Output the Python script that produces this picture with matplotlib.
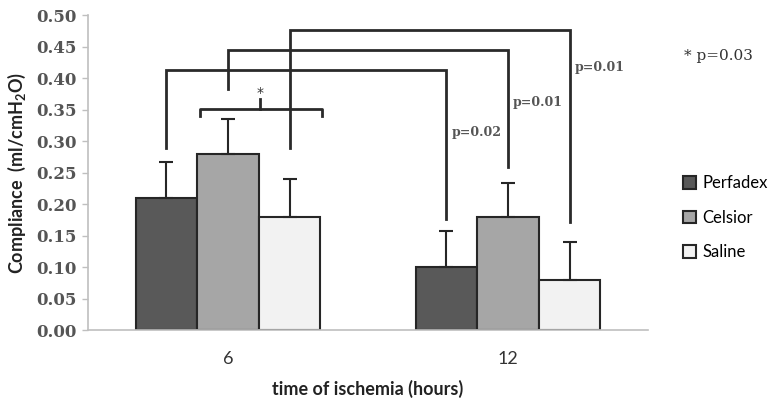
import numpy as np
import matplotlib.pyplot as plt

plt.rcParams['mathtext.fontset'] = 'custom'
plt.rcParams['mathtext.rm'] = 'Lato:bold'
plt.rcParams['mathtext.default'] = 'rm'

# data
hours = ['6', '12']
groups = ['Perfadex', 'Celsior', 'Saline']
means = {
    'Perfadex': [0.21, 0.10],
    'Celsior': [0.28, 0.18],
    'Saline': [0.18, 0.08],
}
sds = {
    'Perfadex': [0.057, 0.058],
    'Celsior': [0.055, 0.053],
    'Saline': [0.060, 0.060],
}
colors = {'Perfadex': '#595959', 'Celsior': '#a6a6a6', 'Saline': '#f2f2f2'}

# comparison brackets: group, y of left foot, y of top, y of right foot, label, label y
brackets = [
    ('Perfadex', 0.289, 0.413, 0.176, 'p=0.02', 0.313),
    ('Celsior', 0.383, 0.444, 0.259, 'p=0.01', 0.362),
    ('Saline', 0.289, 0.476, 0.171, 'p=0.01', 0.416),
]

fig = plt.figure(figsize=(7.68, 4.07), dpi=100)
ax = fig.add_axes([0.1146, 0.189, 0.729, 0.774])

x = np.arange(len(hours))
w = 0.22
for j, g in enumerate(groups):
    pos = x + (j - 1) * w
    ax.bar(pos, means[g], w, color=colors[g], edgecolor='#262626', linewidth=1.5,
           label=g, zorder=2)
    ax.errorbar(pos, means[g], yerr=[np.zeros(2), sds[g]], fmt='none',
                ecolor='#262626', elinewidth=1.5, capsize=5, capthick=1.5, zorder=3)

# brackets between 6 h and 12 h
for g, yl, yt, yr, lab, ylab in brackets:
    j = groups.index(g)
    xl = x[0] + (j - 1) * w
    xr = x[1] + (j - 1) * w
    ax.plot([xl, xl, xr, xr], [yl, yt, yt, yr], color='#2a2a2a', lw=2,
            solid_joinstyle='miter', zorder=1, clip_on=False)
    ax.text(xr + 0.018, ylab, lab, ha='left', va='center', family='DejaVu Serif',
            fontsize=9, fontweight='bold', color='#555555')

# curly bracket over the 6 h group
bl, br, bm = -0.1, 0.336, 0.114
ax.plot([bl, bl, br, br], [0.339, 0.351, 0.351, 0.339], color='#2a2a2a', lw=2,
        solid_joinstyle='round', zorder=1)
ax.plot([bm, bm], [0.351, 0.366], color='#2a2a2a', lw=2, zorder=1)
ax.text(bm, 0.376, '*', ha='center', va='center', fontsize=10, color='#333333')

ax.set_xlim(-0.5, 1.5)
ax.set_ylim(0, 0.5)
ticks = np.arange(0, 0.501, 0.05)
ax.set_yticks(ticks)
ax.set_yticklabels([f'{v:.2f}' for v in ticks], family='DejaVu Serif',
                   fontsize=12, fontweight='bold', color='#555555')
ax.set_xticks(x)
ax.set_xticklabels(hours, family='Lato', fontsize=13, color='#333333')
ax.tick_params(axis='x', length=0, pad=15)
ax.tick_params(axis='y', length=4, color='#bfbfbf', width=1, pad=4)
for s in ['top', 'right']:
    ax.spines[s].set_visible(False)
for s in ['left', 'bottom']:
    ax.spines[s].set_color('#bfbfbf')
    ax.spines[s].set_linewidth(1.2)

ax.set_ylabel('Compliance  (ml/cmH$_2$O)', family='Lato', fontsize=13,
              fontweight='bold', color='#222222', labelpad=6)
ax.set_xlabel('time of ischemia (hours)', family='Lato', fontsize=13,
              fontweight='bold', color='#222222', labelpad=9)

fig.text(0.935, 0.862, '* p=0.03', ha='center', va='center',
         family='DejaVu Serif', fontsize=11, color='#333333')

fig.legend(loc='center left', bbox_to_anchor=(0.87, 0.465), frameon=False,
           prop={'family': 'Lato', 'size': 12}, handlelength=0.8,
           handleheight=0.8, handletextpad=0.35, labelspacing=1.1)

fig.savefig('out.png', dpi=100)
